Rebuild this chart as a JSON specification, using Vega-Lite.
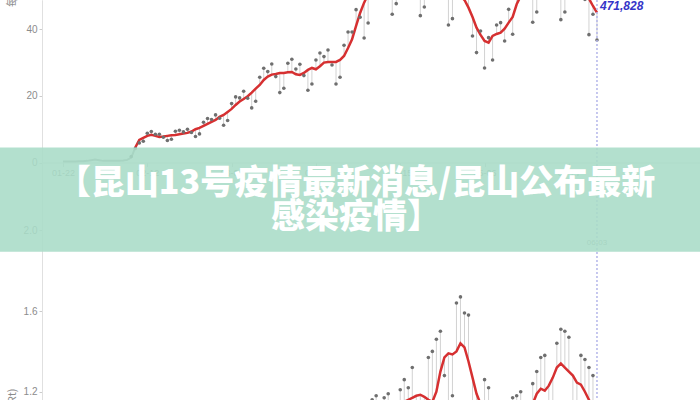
{
  "$schema": "https://vega.github.io/schema/vega-lite/v6.json",
  "width": 658,
  "height": 400,
  "autosize": {"type": "none"},
  "padding": {"left": 42, "top": 0, "right": 0, "bottom": 0},
  "background": "white",
  "config": {
    "view": {"stroke": null},
    "font": "Liberation Sans",
    "axis": {"labelColor": "#8c8c8c", "labelFontSize": 10, "tickColor": "#cccccc", "domainColor": "#e0e0e0", "titleColor": "#8c8c8c", "titleFontWeight": "normal", "titleFont": "Noto Sans CJK SC", "titleFontSize": 11, "grid": false, "tickSize": 3}
  },
  "datasets": {
    "cases": [
      {"date": "2020-01-22", "avg": 0.3}, {"date": "2020-01-23", "avg": 0.3}, {"date": "2020-01-24", "avg": 0.3},
      {"date": "2020-01-25", "avg": 0.3}, {"date": "2020-01-26", "avg": 0.4}, {"date": "2020-01-27", "avg": 0.4},
      {"date": "2020-01-28", "avg": 0.5}, {"date": "2020-01-29", "avg": 0.7}, {"date": "2020-01-30", "avg": 0.9},
      {"date": "2020-01-31", "avg": 0.7}, {"date": "2020-02-01", "avg": 0.5}, {"date": "2020-02-02", "avg": 0.5},
      {"date": "2020-02-03", "avg": 0.5}, {"date": "2020-02-04", "avg": 0.5}, {"date": "2020-02-05", "avg": 0.5},
      {"date": "2020-02-06", "avg": 0.6}, {"date": "2020-02-07", "avg": 0.8},
      {"date": "2020-02-08", "avg": 1.5, "daily": 1.8},
      {"date": "2020-02-09", "avg": 4.5, "daily": 4.2},
      {"date": "2020-02-10", "avg": 6.8, "daily": 5.9},
      {"date": "2020-02-11", "avg": 7.4, "daily": 6.4},
      {"date": "2020-02-12", "avg": 8.0, "daily": 8.8},
      {"date": "2020-02-13", "avg": 8.3, "daily": 9.3},
      {"date": "2020-02-14", "avg": 8.0, "daily": 8.5},
      {"date": "2020-02-15", "avg": 7.7, "daily": 8.5},
      {"date": "2020-02-16", "avg": 7.8, "daily": 7.6},
      {"date": "2020-02-17", "avg": 8.0, "daily": 6.6},
      {"date": "2020-02-18", "avg": 8.2, "daily": 7.0},
      {"date": "2020-02-19", "avg": 8.3, "daily": 9.4},
      {"date": "2020-02-20", "avg": 8.5, "daily": 9.7},
      {"date": "2020-02-21", "avg": 8.7, "daily": 9.2},
      {"date": "2020-02-22", "avg": 8.9, "daily": 10.0},
      {"date": "2020-02-23", "avg": 9.3, "daily": 9.0},
      {"date": "2020-02-24", "avg": 10.0, "daily": 7.8},
      {"date": "2020-02-25", "avg": 10.4, "daily": 8.6},
      {"date": "2020-02-26", "avg": 11.0, "daily": 12.1},
      {"date": "2020-02-27", "avg": 11.6, "daily": 13.2},
      {"date": "2020-02-28", "avg": 12.2, "daily": 12.9},
      {"date": "2020-02-29", "avg": 12.8, "daily": 14.3},
      {"date": "2020-03-01", "avg": 13.7, "daily": 13.3},
      {"date": "2020-03-02", "avg": 14.3, "daily": 11.2},
      {"date": "2020-03-03", "avg": 15.2, "daily": 12.6},
      {"date": "2020-03-04", "avg": 16.1, "daily": 17.7},
      {"date": "2020-03-05", "avg": 17.3, "daily": 19.7},
      {"date": "2020-03-06", "avg": 18.3, "daily": 19.4},
      {"date": "2020-03-07", "avg": 19.1, "daily": 21.4},
      {"date": "2020-03-08", "avg": 19.9, "daily": 19.3},
      {"date": "2020-03-09", "avg": 21.0, "daily": 16.4},
      {"date": "2020-03-10", "avg": 22.2, "daily": 18.4},
      {"date": "2020-03-11", "avg": 23.3, "daily": 25.6},
      {"date": "2020-03-12", "avg": 24.8, "daily": 28.3},
      {"date": "2020-03-13", "avg": 25.8, "daily": 27.3},
      {"date": "2020-03-14", "avg": 26.4, "daily": 29.6},
      {"date": "2020-03-15", "avg": 26.6, "daily": 25.8},
      {"date": "2020-03-16", "avg": 26.9, "daily": 21.0},
      {"date": "2020-03-17", "avg": 26.9, "daily": 22.3},
      {"date": "2020-03-18", "avg": 27.1, "daily": 29.8},
      {"date": "2020-03-19", "avg": 27.2, "daily": 31.0},
      {"date": "2020-03-20", "avg": 26.5, "daily": 28.1},
      {"date": "2020-03-21", "avg": 26.3, "daily": 29.5},
      {"date": "2020-03-22", "avg": 26.9, "daily": 26.1},
      {"date": "2020-03-23", "avg": 27.8, "daily": 21.7},
      {"date": "2020-03-24", "avg": 28.4, "daily": 23.6},
      {"date": "2020-03-25", "avg": 28.0, "daily": 30.8},
      {"date": "2020-03-26", "avg": 28.9, "daily": 32.9},
      {"date": "2020-03-27", "avg": 30.0, "daily": 31.8},
      {"date": "2020-03-28", "avg": 30.2, "daily": 33.8},
      {"date": "2020-03-29", "avg": 30.2, "daily": 29.3},
      {"date": "2020-03-30", "avg": 30.2, "daily": 23.6},
      {"date": "2020-03-31", "avg": 30.8, "daily": 25.6},
      {"date": "2020-04-01", "avg": 32.0, "daily": 35.2},
      {"date": "2020-04-02", "avg": 34.4, "daily": 39.2},
      {"date": "2020-04-03", "avg": 37.0, "daily": 39.2},
      {"date": "2020-04-04", "avg": 41.0, "daily": 45.9},
      {"date": "2020-04-05", "avg": 44.9, "daily": 43.6},
      {"date": "2020-04-06", "avg": 48.0, "daily": 37.4},
      {"date": "2020-04-07", "avg": 50.5, "daily": 41.9},
      {"date": "2020-04-08", "avg": 52.0, "daily": 57.2},
      {"date": "2020-04-09", "avg": 53.5, "daily": 61.0},
      {"date": "2020-04-10", "avg": 55.0, "daily": 58.3},
      {"date": "2020-04-11", "avg": 56.0, "daily": 62.7},
      {"date": "2020-04-12", "avg": 56.5, "daily": 54.8},
      {"date": "2020-04-13", "avg": 57.0, "daily": 44.5},
      {"date": "2020-04-14", "avg": 57.5, "daily": 47.7},
      {"date": "2020-04-15", "avg": 57.5, "daily": 63.3},
      {"date": "2020-04-16", "avg": 57.3, "daily": 65.3},
      {"date": "2020-04-17", "avg": 57.0, "daily": 60.4},
      {"date": "2020-04-18", "avg": 56.8, "daily": 63.6},
      {"date": "2020-04-19", "avg": 56.5, "daily": 54.8},
      {"date": "2020-04-20", "avg": 56.5, "daily": 44.1},
      {"date": "2020-04-21", "avg": 56.3, "daily": 46.7},
      {"date": "2020-04-22", "avg": 56.0, "daily": 61.6},
      {"date": "2020-04-23", "avg": 55.5, "daily": 63.3},
      {"date": "2020-04-24", "avg": 55.0, "daily": 58.3},
      {"date": "2020-04-25", "avg": 54.5, "daily": 61.0},
      {"date": "2020-04-26", "avg": 54.0, "daily": 52.4},
      {"date": "2020-04-27", "avg": 53.0, "daily": 41.3},
      {"date": "2020-04-28", "avg": 52.0, "daily": 43.2},
      {"date": "2020-04-29", "avg": 51.0, "daily": 56.1},
      {"date": "2020-04-30", "avg": 50.0, "daily": 57.0},
      {"date": "2020-05-01", "avg": 48.8, "daily": 51.7},
      {"date": "2020-05-02", "avg": 46.5, "daily": 52.1},
      {"date": "2020-05-03", "avg": 43.7, "daily": 38.0},
      {"date": "2020-05-04", "avg": 40.5, "daily": 33.0},
      {"date": "2020-05-05", "avg": 38.3, "daily": 39.5},
      {"date": "2020-05-06", "avg": 36.5, "daily": 28.4},
      {"date": "2020-05-07", "avg": 36.0, "daily": 37.5},
      {"date": "2020-05-08", "avg": 38.0, "daily": 30.8},
      {"date": "2020-05-09", "avg": 38.6, "daily": 41.3},
      {"date": "2020-05-10", "avg": 39.0, "daily": 42.0},
      {"date": "2020-05-11", "avg": 40.2, "daily": 36.5},
      {"date": "2020-05-12", "avg": 42.0, "daily": 46.0},
      {"date": "2020-05-13", "avg": 43.7, "daily": 38.5},
      {"date": "2020-05-14", "avg": 47.5, "daily": 54.2},
      {"date": "2020-05-15", "avg": 50.0, "daily": 53.0},
      {"date": "2020-05-16", "avg": 52.0, "daily": 58.2},
      {"date": "2020-05-17", "avg": 53.0, "daily": 51.4},
      {"date": "2020-05-18", "avg": 54.0, "daily": 42.1},
      {"date": "2020-05-19", "avg": 54.5, "daily": 45.2},
      {"date": "2020-05-20", "avg": 55.0, "daily": 60.5},
      {"date": "2020-05-21", "avg": 55.0, "daily": 62.7},
      {"date": "2020-05-22", "avg": 55.5, "daily": 58.8},
      {"date": "2020-05-23", "avg": 55.5, "daily": 62.2},
      {"date": "2020-05-24", "avg": 55.0, "daily": 53.4},
      {"date": "2020-05-25", "avg": 55.0, "daily": 42.9},
      {"date": "2020-05-26", "avg": 54.5, "daily": 45.2},
      {"date": "2020-05-27", "avg": 54.0, "daily": 59.4},
      {"date": "2020-05-28", "avg": 53.5, "daily": 61.0},
      {"date": "2020-05-29", "avg": 52.5, "daily": 55.7},
      {"date": "2020-05-30", "avg": 51.5, "daily": 57.7},
      {"date": "2020-05-31", "avg": 50.5, "daily": 49.0},
      {"date": "2020-06-01", "avg": 49.2, "daily": 38.4},
      {"date": "2020-06-02", "avg": 47.0, "daily": 44.5},
      {"date": "2020-06-03", "avg": 45.0, "daily": 36.8}
    ],
    "rt": [
      {"date": "2020-04-01", "rt": 1.00, "rtd": 0.95}, {"date": "2020-04-02", "rt": 1.02, "rtd": 1.08},
      {"date": "2020-04-03", "rt": 1.03, "rtd": 1.10}, {"date": "2020-04-04", "rt": 1.04, "rtd": 0.98},
      {"date": "2020-04-05", "rt": 1.05, "rtd": 1.12}, {"date": "2020-04-06", "rt": 1.05, "rtd": 0.92},
      {"date": "2020-04-07", "rt": 1.06, "rtd": 0.90}, {"date": "2020-04-08", "rt": 1.07, "rtd": 1.16},
      {"date": "2020-04-09", "rt": 1.08, "rtd": 1.18}, {"date": "2020-04-10", "rt": 1.09, "rtd": 1.14},
      {"date": "2020-04-11", "rt": 1.08, "rtd": 1.17}, {"date": "2020-04-12", "rt": 1.10, "rtd": 1.19},
      {"date": "2020-04-13", "rt": 1.12, "rtd": 1.00}, {"date": "2020-04-14", "rt": 1.13, "rtd": 0.98},
      {"date": "2020-04-15", "rt": 1.14, "rtd": 1.21}, {"date": "2020-04-16", "rt": 1.15, "rtd": 1.26},
      {"date": "2020-04-17", "rt": 1.16, "rtd": 1.22}, {"date": "2020-04-18", "rt": 1.17, "rtd": 1.32},
      {"date": "2020-04-19", "rt": 1.18, "rtd": 1.12}, {"date": "2020-04-20", "rt": 1.185, "rtd": 0.98},
      {"date": "2020-04-21", "rt": 1.175, "rtd": 1.02}, {"date": "2020-04-22", "rt": 1.16, "rtd": 1.37},
      {"date": "2020-04-23", "rt": 1.15, "rtd": 1.40}, {"date": "2020-04-24", "rt": 1.20, "rtd": 1.46},
      {"date": "2020-04-25", "rt": 1.30, "rtd": 1.50}, {"date": "2020-04-26", "rt": 1.37, "rtd": 1.28},
      {"date": "2020-04-27", "rt": 1.39, "rtd": 1.12}, {"date": "2020-04-28", "rt": 1.385, "rtd": 1.18},
      {"date": "2020-04-29", "rt": 1.40, "rtd": 1.64}, {"date": "2020-04-30", "rt": 1.44, "rtd": 1.67},
      {"date": "2020-05-01", "rt": 1.42, "rtd": 1.59}, {"date": "2020-05-02", "rt": 1.35, "rtd": 1.58},
      {"date": "2020-05-03", "rt": 1.27, "rtd": 1.10}, {"date": "2020-05-04", "rt": 1.19, "rtd": 0.95},
      {"date": "2020-05-05", "rt": 1.14, "rtd": 0.96}, {"date": "2020-05-06", "rt": 1.10, "rtd": 1.26},
      {"date": "2020-05-07", "rt": 1.08, "rtd": 1.22}, {"date": "2020-05-08", "rt": 1.06, "rtd": 1.14},
      {"date": "2020-05-09", "rt": 1.05, "rtd": 1.15}, {"date": "2020-05-10", "rt": 1.04, "rtd": 0.90},
      {"date": "2020-05-11", "rt": 1.04, "rtd": 0.88}, {"date": "2020-05-12", "rt": 1.05, "rtd": 1.12},
      {"date": "2020-05-13", "rt": 1.06, "rtd": 1.17}, {"date": "2020-05-14", "rt": 1.07, "rtd": 1.18},
      {"date": "2020-05-15", "rt": 1.08, "rtd": 1.20}, {"date": "2020-05-16", "rt": 1.09, "rtd": 0.95},
      {"date": "2020-05-17", "rt": 1.10, "rtd": 0.92}, {"date": "2020-05-18", "rt": 1.14, "rtd": 1.24},
      {"date": "2020-05-19", "rt": 1.19, "rtd": 1.30}, {"date": "2020-05-20", "rt": 1.215, "rtd": 1.37},
      {"date": "2020-05-21", "rt": 1.205, "rtd": 1.38}, {"date": "2020-05-22", "rt": 1.23, "rtd": 1.06},
      {"date": "2020-05-23", "rt": 1.27, "rtd": 1.08}, {"date": "2020-05-24", "rt": 1.32, "rtd": 1.44},
      {"date": "2020-05-25", "rt": 1.34, "rtd": 1.51}, {"date": "2020-05-26", "rt": 1.32, "rtd": 1.50},
      {"date": "2020-05-27", "rt": 1.30, "rtd": 1.47}, {"date": "2020-05-28", "rt": 1.28, "rtd": 1.12},
      {"date": "2020-05-29", "rt": 1.245, "rtd": 1.05}, {"date": "2020-05-30", "rt": 1.235, "rtd": 1.38},
      {"date": "2020-05-31", "rt": 1.20, "rtd": 1.36}, {"date": "2020-06-01", "rt": 1.16, "rtd": 1.32},
      {"date": "2020-06-02", "rt": 1.12, "rtd": 1.28}, {"date": "2020-06-03", "rt": 1.10, "rtd": 1.04}
    ]
  },
  "encoding": {
    "x": {
      "field": "date",
      "type": "temporal",
      "scale": {"type": "utc", "domain": [{"year": 2020, "month": 1, "date": 16, "hours": 18, "minutes": 29, "utc": true}, {"year": 2020, "month": 6, "date": 28, "hours": 15, "minutes": 50, "utc": true}]},
      "axis": {
        "orient": "bottom",
        "offset": -237.5,
        "title": null,
        "format": "%m-%d",
        "labelFontSize": 9,
        "tickSize": 4,
        "domainColor": "#d8d8d8",
        "values": [
          {"year": 2020, "month": 1, "date": 22, "utc": true},
          {"year": 2020, "month": 2, "date": 12, "utc": true},
          {"year": 2020, "month": 3, "date": 4, "utc": true},
          {"year": 2020, "month": 3, "date": 25, "utc": true},
          {"year": 2020, "month": 4, "date": 15, "utc": true},
          {"year": 2020, "month": 5, "date": 6, "utc": true},
          {"year": 2020, "month": 5, "date": 27, "utc": true}
        ]
      }
    }
  },
  "resolve": {"scale": {"y": "independent"}, "axis": {"y": "independent"}},
  "layer": [
    {
      "data": {"name": "rt"},
      "mark": {"type": "rule", "color": "#d2d2d2", "strokeWidth": 1},
      "encoding": {
        "y": {"field": "rtd", "type": "quantitative", "scale": {"domain": [1.159, 3.142]},
          "axis": {"orient": "left", "values": [1.2, 1.6, 2.0], "format": ".1f", "title": "有效再生数 (Rt)", "titleX": -30, "titleY": 426, "titleBaseline": "middle", "domain": true}},
        "y2": {"field": "rt"}
      }
    },
    {
      "data": {"name": "rt"},
      "mark": {"type": "line", "color": "#d63031", "strokeWidth": 2.5},
      "encoding": {"y": {"field": "rt", "type": "quantitative", "scale": {"domain": [1.159, 3.142]}, "axis": null}}
    },
    {
      "data": {"name": "rt"},
      "mark": {"type": "circle", "color": "#6f6f6f", "size": 13, "opacity": 1},
      "encoding": {"y": {"field": "rtd", "type": "quantitative", "scale": {"domain": [1.159, 3.142]}, "axis": null}}
    },
    {
      "data": {"values": [{"date": "2020-06-03", "v": 1.937, "t": "06-03"}]},
      "mark": {"type": "text", "fontSize": 8, "color": "#9a9a9a"},
      "encoding": {
        "y": {"field": "v", "type": "quantitative", "scale": {"domain": [1.159, 3.142]}, "axis": null},
        "text": {"field": "t"}
      }
    },
    {
      "data": {"name": "cases"},
      "mark": {"type": "rule", "color": "#d2d2d2", "strokeWidth": 1},
      "encoding": {
        "y": {"field": "daily", "type": "quantitative", "scale": {"domain": [-71.3, 48.8]},
          "axis": {"orient": "left", "values": [0, 20, 40], "title": "每日新增确诊数", "titleX": -30, "titleY": -32, "titleBaseline": "middle", "domain": true}},
        "y2": {"field": "avg"}
      }
    },
    {
      "data": {"name": "cases"},
      "transform": [{"filter": "datum.avg <= 4.5"}],
      "mark": {"type": "line", "color": "#9a9a9a", "strokeWidth": 2},
      "encoding": {"y": {"field": "avg", "type": "quantitative", "scale": {"domain": [-71.3, 48.8]}, "axis": null}}
    },
    {
      "data": {"name": "cases"},
      "transform": [{"filter": "datum.avg >= 4.5"}],
      "mark": {"type": "line", "color": "#d63031", "strokeWidth": 2.5},
      "encoding": {"y": {"field": "avg", "type": "quantitative", "scale": {"domain": [-71.3, 48.8]}, "axis": null}}
    },
    {
      "data": {"name": "cases"},
      "mark": {"type": "circle", "color": "#6f6f6f", "size": 13, "opacity": 1},
      "encoding": {"y": {"field": "daily", "type": "quantitative", "scale": {"domain": [-71.3, 48.8]}, "axis": null}}
    },
    {
      "data": {"values": [{"date": "2020-06-03"}]},
      "mark": {"type": "rule", "color": "#b4b6ea", "strokeDash": [2, 2], "strokeWidth": 1.5},
      "encoding": {}
    },
    {
      "data": {"values": [{"date": "2020-06-03", "v": 47.0, "t": "471,828"}]},
      "mark": {"type": "text", "align": "left", "dx": 3, "fontSize": 12, "fontStyle": "italic", "fontWeight": "bold", "color": "#3535c8"},
      "encoding": {
        "y": {"field": "v", "type": "quantitative", "scale": {"domain": [-71.3, 48.8]}, "axis": null},
        "text": {"field": "t"}
      }
    },
    {
      "data": {"values": [{"date": "2020-01-06T07:00:00Z", "date2": "2020-07-02T00:00:00Z", "v1": 4.5, "v2": -26.79}]},
      "mark": {"type": "rect", "color": "#a9dcc7", "opacity": 0.88},
      "encoding": {
        "x2": {"field": "date2"},
        "y": {"field": "v1", "type": "quantitative", "scale": {"domain": [-71.3, 48.8]}, "axis": null},
        "y2": {"field": "v2"}
      }
    },
    {
      "data": {"values": [
        {"date": "2020-04-04", "v": -6.46, "t": "【昆山13号疫情最新消息/昆山公布最新"},
        {"date": "2020-04-04", "v": -16.67, "t": "感染疫情】"}
      ]},
      "mark": {"type": "text", "font": "Noto Sans CJK SC", "fontWeight": 900, "fontSize": 34, "color": "white", "align": "center", "baseline": "middle"},
      "encoding": {
        "y": {"field": "v", "type": "quantitative", "scale": {"domain": [-71.3, 48.8]}, "axis": null},
        "text": {"field": "t"}
      }
    }
  ]
}
